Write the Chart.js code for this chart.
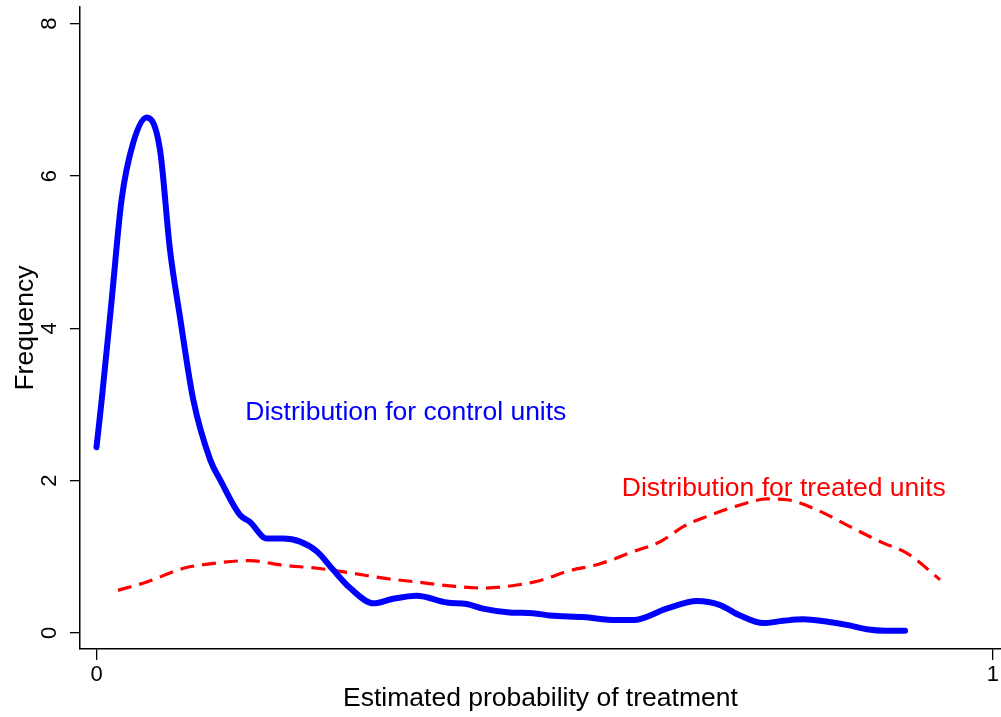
<!DOCTYPE html>
<html>
<head>
<meta charset="utf-8">
<script src="https://cdn.jsdelivr.net/npm/chart.js@4"></script>
<style>
  html, body { margin: 0; padding: 0; background: #fff; }
  #wrap { width: 1001px; height: 717px; }
</style>
</head>
<body>
<div id="wrap"><canvas id="myChart"></canvas></div>
<script>
// control units density (blue)
var controlX = [0.0, 0.0058, 0.017, 0.028, 0.041, 0.056, 0.0708, 0.082, 0.093, 0.108, 0.127, 0.138, 0.160, 0.171, 0.190, 0.208, 0.227, 0.246, 0.264, 0.283, 0.309, 0.331, 0.357, 0.391, 0.413, 0.431, 0.461, 0.487, 0.506, 0.543, 0.580, 0.599, 0.636, 0.670, 0.695, 0.718, 0.744, 0.766, 0.788, 0.814, 0.840, 0.859, 0.881, 0.902];
var controlY = [2.44, 3.06, 4.38, 5.69, 6.44, 6.77, 6.35, 5.03, 4.16, 3.06, 2.27, 2.01, 1.55, 1.46, 1.24, 1.24, 1.20, 1.07, 0.83, 0.59, 0.39, 0.45, 0.49, 0.40, 0.38, 0.32, 0.27, 0.26, 0.23, 0.21, 0.17, 0.17, 0.32, 0.42, 0.37, 0.23, 0.13, 0.16, 0.18, 0.15, 0.10, 0.05, 0.03, 0.03];

// treated units density (red dashed)
var treatedX = [0.024, 0.056, 0.097, 0.115, 0.171, 0.208, 0.246, 0.283, 0.320, 0.357, 0.394, 0.431, 0.469, 0.498, 0.525, 0.562, 0.599, 0.629, 0.655, 0.681, 0.718, 0.748, 0.770, 0.803, 0.840, 0.878, 0.904, 0.941];
var treatedY = [0.56, 0.67, 0.85, 0.89, 0.95, 0.89, 0.85, 0.79, 0.72, 0.67, 0.62, 0.59, 0.63, 0.70, 0.81, 0.91, 1.07, 1.20, 1.40, 1.53, 1.68, 1.76, 1.75, 1.62, 1.40, 1.18, 1.05, 0.70];

var xTicks = [0, 1];
var yTicks = [0, 2, 4, 6, 8];

// text labels placed in data units
var notes = [
  { text: 'Distribution for control units', x: 0.166, y: 2.89, color: '#0000ff' },
  { text: 'Distribution for treated units', x: 0.586, y: 1.89, color: '#ff0000' }
];

var FONT = '"Liberation Sans", Arial, sans-serif';

function toPoints(xs, ys) {
  var out = [];
  for (var i = 0; i < xs.length; i++) out.push({ x: xs[i], y: ys[i] });
  return out;
}

// draws rotated y tick labels and the in-plot notes
var extras = {
  id: 'extras',
  afterDraw: function(chart) {
    var ctx = chart.ctx;
    var ys = chart.scales.y, xs = chart.scales.x;
    ctx.save();
    ctx.fillStyle = '#000';
    ctx.font = '22px ' + FONT;
    ctx.textAlign = 'center';
    ctx.textBaseline = 'middle';
    yTicks.forEach(function(v) {
      var py = ys.getPixelForValue(v);
      ctx.save();
      ctx.translate(50, py);
      ctx.rotate(-Math.PI / 2);
      ctx.fillText(String(v), 0, 0);
      ctx.restore();
    });
    ctx.font = '26.5px ' + FONT;
    ctx.textAlign = 'left';
    notes.forEach(function(n) {
      ctx.fillStyle = n.color;
      ctx.fillText(n.text, xs.getPixelForValue(n.x), ys.getPixelForValue(n.y));
    });
    ctx.restore();
  }
};

const config = {
  type: 'line',
  data: {
    datasets: [{
      label: 'control',
      data: toPoints(controlX, controlY),
      borderColor: '#0000ff',
      borderWidth: 6,
      borderCapStyle: 'round',
      borderJoinStyle: 'round',
      pointRadius: 0,
      cubicInterpolationMode: 'monotone',
      fill: false
    }, {
      label: 'treated',
      data: toPoints(treatedX, treatedY),
      borderColor: '#ff0000',
      borderWidth: 3.2,
      borderDash: [14, 8],
      pointRadius: 0,
      cubicInterpolationMode: 'monotone',
      fill: false
    }]
  },
  options: {
    responsive: true,
    maintainAspectRatio: false,
    animation: false,
    layout: { padding: { top: 7, right: 0, left: 0, bottom: 0 } },
    plugins: { legend: { display: false }, tooltip: { enabled: false } },
    scales: {
      x: {
        type: 'linear',
        min: -0.0184,
        max: 1.0089,
        afterBuildTicks: function(s) { s.ticks = xTicks.map(function(v) { return { value: v }; }); },
        afterFit: function(s) { s.height = 68; },
        ticks: { color: '#000', font: { size: 22, family: FONT }, padding: 2, maxRotation: 0 },
        grid: { drawOnChartArea: false, drawTicks: true, tickLength: 11, color: '#000', lineWidth: 1.3 },
        border: { display: true, color: '#000', width: 1.5 },
        title: { display: true, text: 'Estimated probability of treatment', color: '#000',
                 font: { size: 26.5, family: FONT }, padding: { top: 0, bottom: 2 } }
      },
      y: {
        type: 'linear',
        min: -0.21,
        max: 8.22,
        afterBuildTicks: function(s) { s.ticks = yTicks.map(function(v) { return { value: v }; }); },
        afterFit: function(s) { s.width = 80; },
        ticks: { display: false },
        grid: { drawOnChartArea: false, drawTicks: true, tickLength: 10, color: '#000', lineWidth: 1.3 },
        border: { display: true, color: '#000', width: 1.5 },
        title: { display: true, text: 'Frequency', color: '#000',
                 font: { size: 26.5, family: FONT }, padding: { top: 10, bottom: 0 } }
      }
    }
  },
  plugins: [extras]
};

const myChart = new Chart(document.getElementById('myChart'), config);
</script>
</body>
</html>
